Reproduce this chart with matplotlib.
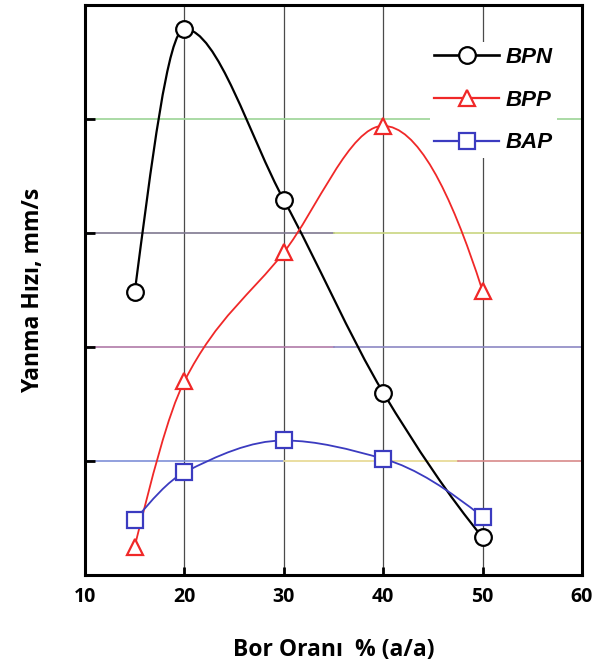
import numpy as np
import matplotlib
matplotlib.use("Agg")
import matplotlib.pyplot as plt
from matplotlib.path import Path
from matplotlib.patches import PathPatch
from matplotlib.lines import Line2D

# ---- data ----
bor_orani = [15, 20, 30, 40, 50]
bpn = [2.48, 4.79, 3.29, 1.60, 0.33]
bpp = [0.25, 1.70, 2.83, 3.94, 2.49]
bap = [0.48, 0.90, 1.18, 1.02, 0.51]
series_names = ["BPN", "BPP", "BAP"]
x_ticks = [10, 20, 30, 40, 50, 60]


def pchip_slopes(x, y):
    x = np.asarray(x, float); y = np.asarray(y, float)
    h = np.diff(x); delta = np.diff(y) / h
    n = len(x); d = np.zeros(n)
    for k in range(1, n - 1):
        if delta[k - 1] * delta[k] <= 0:
            d[k] = 0.0
        else:
            w1 = 2 * h[k] + h[k - 1]; w2 = h[k] + 2 * h[k - 1]
            d[k] = (w1 + w2) / (w1 / delta[k - 1] + w2 / delta[k])

    def end(h0, h1, d0, d1):
        s = ((2 * h0 + h1) * d0 - h0 * d1) / (h0 + h1)
        if np.sign(s) != np.sign(d0):
            s = 0.0
        elif np.sign(d0) != np.sign(d1) and abs(s) > abs(3 * d0):
            s = 3 * d0
        return s
    d[0] = end(h[0], h[1], delta[0], delta[1])
    d[-1] = end(h[-1], h[-2], delta[-1], delta[-2])
    return d


def smooth_path(x, y):
    d = pchip_slopes(x, y)
    verts = [(x[0], y[0])]; codes = [Path.MOVETO]
    for k in range(len(x) - 1):
        h = x[k + 1] - x[k]
        verts += [(x[k] + h / 3, y[k] + d[k] * h / 3),
                  (x[k + 1] - h / 3, y[k + 1] - d[k + 1] * h / 3),
                  (x[k + 1], y[k + 1])]
        codes += [Path.CURVE4] * 3
    return Path(verts, codes)


fig = plt.figure(figsize=(5.95, 6.71), dpi=100)
ax = fig.add_axes([85 / 595, 96 / 671, 497 / 595, 570 / 671])
ax.set_xlim(10, 60)
ax.set_ylim(0, 5)

# grid lines
for xv in [20, 30, 40, 50]:
    ax.axvline(xv, color="#4a4a4a", lw=0.9, zorder=1)
grid_segments = [
    (4, [(0.0, 1.0, "#9cd496")]),
    (3, [(0.0, 0.5, "#7f7890"), (0.5, 1.0, "#c9d680")]),
    (2, [(0.0, 0.5, "#b07aa8"), (0.5, 1.0, "#8c88c4")]),
    (1, [(0.0, 0.4, "#7f90d8"), (0.4, 0.75, "#e6d890"), (0.75, 1.0, "#d88a8a")]),
]
for yv, segs in grid_segments:
    for a, b, c in segs:
        ax.axhline(yv, xmin=a, xmax=b, color=c, lw=1.2, zorder=1)

styles = [
    (bpn, "black", "o", 1.6, 12),
    (bpp, "#f02828", "^", 1.3, 11),
    (bap, "#3b3bc0", "s", 1.3, 11),
]
handles = []
for (vals, col, mk, lw, ms), name in zip(styles, series_names):
    ax.add_patch(PathPatch(smooth_path(bor_orani, vals), facecolor="none",
                           edgecolor=col, lw=lw, zorder=3))
    ax.plot(bor_orani, vals, linestyle="none", marker=mk, ms=ms,
            mfc="white", mec=col, mew=1.6, zorder=4)
    handles.append(Line2D([], [], color=col, lw=lw + 0.3, marker=mk, ms=ms,
                          mfc="white", mec=col, mew=1.6, label=name))

leg = ax.legend(handles=handles, loc="upper right", bbox_to_anchor=(0.972, 0.954),
                frameon=True, fancybox=False, edgecolor="none", facecolor="white",
                framealpha=1, handlelength=2.9, handletextpad=0.3,
                labelspacing=0.98, borderpad=0.2,
                prop={"family": "Liberation Sans", "weight": "bold",
                      "style": "italic", "size": 16})
leg.set_zorder(2)

ax.set_xticks(x_ticks)
ax.set_xticklabels([str(v) for v in x_ticks], fontfamily="Open Sans",
                   fontweight="bold", fontsize=14)
ax.set_yticks([1, 2, 3, 4])
ax.set_yticklabels([])
ax.tick_params(axis="both", direction="in", length=6, width=2, color="black",
               pad=9)
ax.tick_params(axis="y", length=7)
for s in ax.spines.values():
    s.set_linewidth(2.2)
    s.set_color("black")

ax.set_xlabel("Bor Oranı  % (a/a)", fontfamily="Open Sans", fontweight="bold",
              fontsize=16.5, labelpad=22)
ax.set_ylabel("Yanma Hızı, mm/s", fontfamily="Open Sans", fontweight="bold",
              fontsize=16.5, labelpad=20)

fig.savefig("out.png", dpi=100)
